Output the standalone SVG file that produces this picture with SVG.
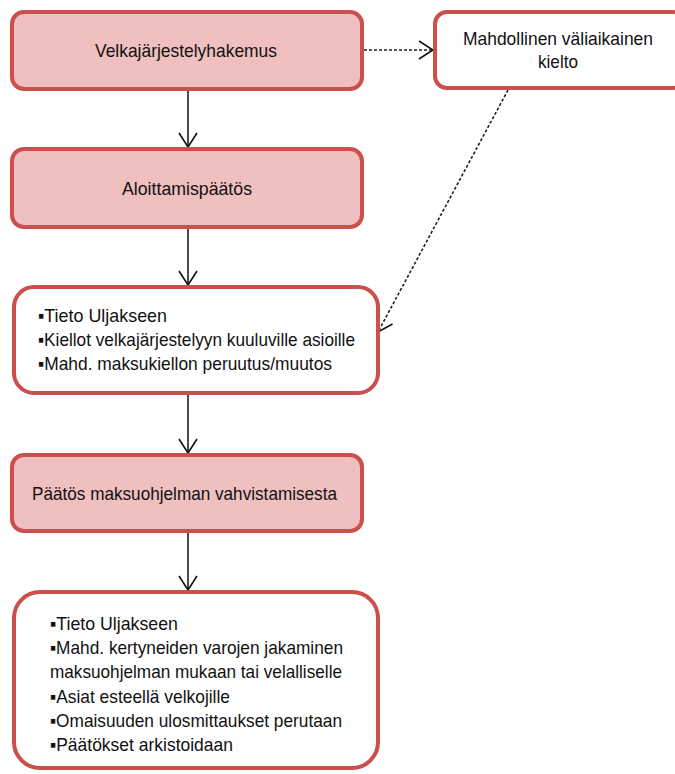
<svg xmlns="http://www.w3.org/2000/svg" width="675" height="774" viewBox="0 0 675 774">
<style>
.bg{fill:#ffffff}
.pink{fill:#f0bfbf;stroke:#c9504d;stroke-width:4}
.white{fill:#ffffff;stroke:#c9504d;stroke-width:4}
.t{font-family:"Liberation Sans",Arial,sans-serif;font-size:19px;fill:#111111}
.solid{stroke:#111111;stroke-width:1.5;fill:none}
.dash{stroke:#222222;stroke-width:1.6;fill:none;stroke-dasharray:3 2}
</style>
<defs>
<marker id="arr" viewBox="0 0 16 20" refX="15" refY="10" markerWidth="16" markerHeight="20" markerUnits="userSpaceOnUse" orient="auto">
<path d="M1,1 L15,10 L1,19" fill="none" stroke="#111111" stroke-width="1.6"/>
</marker>
</defs>
<rect class="bg" x="0" y="0" width="675" height="774"/>
<g id="connectors">
<line class="solid" x1="188" y1="91" x2="188" y2="147" marker-end="url(#arr)"/>
<line class="solid" x1="188" y1="229" x2="188" y2="285" marker-end="url(#arr)"/>
<line class="solid" x1="188" y1="395" x2="188" y2="453" marker-end="url(#arr)"/>
<line class="solid" x1="188" y1="533" x2="188" y2="590" marker-end="url(#arr)"/>
<line class="dash" x1="364" y1="50" x2="433" y2="50" marker-end="url(#arr)"/>
<line class="dash" x1="508" y1="90" x2="378" y2="332" marker-end="url(#arr)"/>
</g>
<g id="n1">
<rect class="pink" x="12" y="12" width="350" height="77" rx="12"/>
<text class="t" x="95" y="57" textLength="182" lengthAdjust="spacingAndGlyphs">Velkajärjestelyhakemus</text>
</g>
<g id="n2">
<rect class="white" x="435" y="12" width="250" height="76" rx="12"/>
<text class="t" x="463" y="45" textLength="190" lengthAdjust="spacingAndGlyphs">Mahdollinen väliaikainen</text>
<text class="t" x="538" y="68" textLength="40" lengthAdjust="spacingAndGlyphs">kielto</text>
</g>
<g id="n3">
<rect class="pink" x="12" y="149" width="350" height="78" rx="12"/>
<text class="t" x="122" y="195" textLength="130" lengthAdjust="spacingAndGlyphs">Aloittamispäätös</text>
</g>
<g id="n4">
<rect class="white" x="14" y="287" width="364" height="106" rx="20"/>
<text class="t" x="38" y="322" textLength="129" lengthAdjust="spacingAndGlyphs">▪Tieto Uljakseen</text>
<text class="t" x="38" y="346" textLength="317" lengthAdjust="spacingAndGlyphs">▪Kiellot velkajärjestelyyn kuuluville asioille</text>
<text class="t" x="38" y="370" textLength="294" lengthAdjust="spacingAndGlyphs">▪Mahd. maksukiellon peruutus/muutos</text>
</g>
<g id="n5">
<rect class="pink" x="12" y="455" width="350" height="76" rx="12"/>
<text class="t" x="32" y="500" textLength="305" lengthAdjust="spacingAndGlyphs">Päätös maksuohjelman vahvistamisesta</text>
</g>
<g id="n6">
<rect class="white" x="14" y="592" width="364" height="176" rx="26"/>
<text class="t" x="50" y="630" textLength="128" lengthAdjust="spacingAndGlyphs">▪Tieto Uljakseen</text>
<text class="t" x="50" y="654" textLength="293" lengthAdjust="spacingAndGlyphs">▪Mahd. kertyneiden varojen jakaminen</text>
<text class="t" x="50" y="678" textLength="292" lengthAdjust="spacingAndGlyphs">maksuohjelman mukaan tai velalliselle</text>
<text class="t" x="50" y="703" textLength="180" lengthAdjust="spacingAndGlyphs">▪Asiat esteellä velkojille</text>
<text class="t" x="50" y="727" textLength="292" lengthAdjust="spacingAndGlyphs">▪Omaisuuden ulosmittaukset perutaan</text>
<text class="t" x="50" y="751" textLength="183" lengthAdjust="spacingAndGlyphs">▪Päätökset arkistoidaan</text>
</g>
</svg>
